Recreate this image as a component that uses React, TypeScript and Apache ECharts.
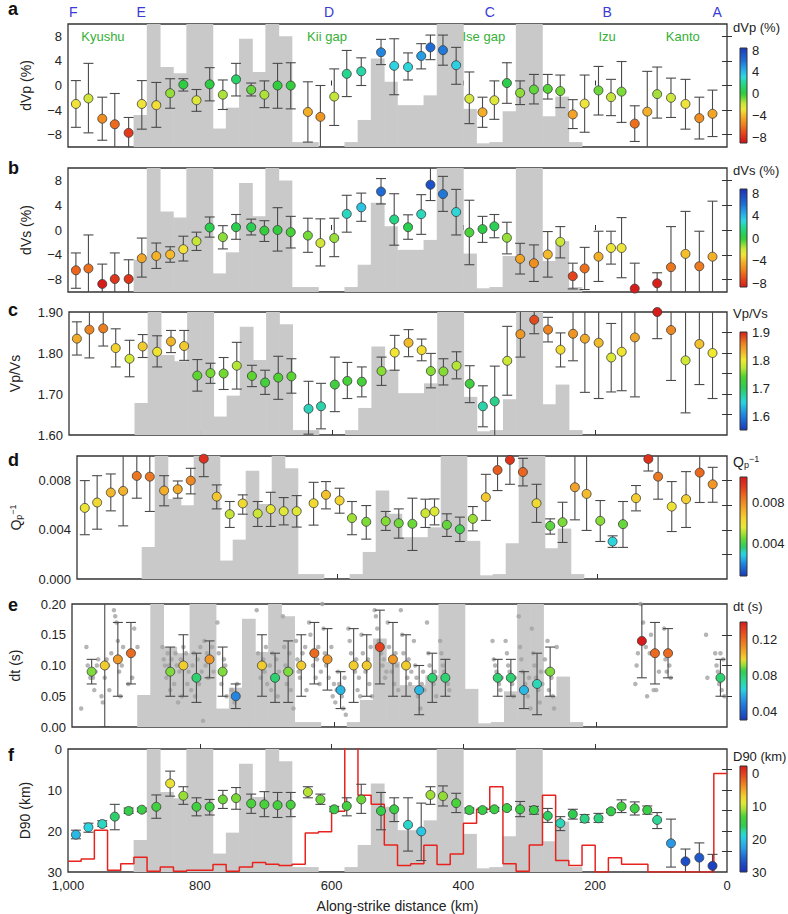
import React, { useEffect, useRef } from "react";
import * as echarts from "echarts";

// ---------- data ----------
const xKm = [988, 969, 948, 929, 908, 888, 866, 845, 825, 805, 785, 765, 745, 722, 702, 682, 662, 636, 617, 596, 577, 555, 525, 505, 484, 464, 450, 431, 411, 391, 371, 353, 334, 314, 293, 272, 253, 234, 216, 195, 176, 160, 140, 121, 106, 85, 63, 42, 22];

const dVp = [-3.0, -2.1, -5.4, -6.3, -7.7, -3.0, -3.2, -1.25, 0.15, -2.4, 0.2, -1.5, 1.0, -0.7, -1.5, 0, 0, -4.3, -5.1, -1.8, 1.9, 2.3, 5.4, 3.2, 3.0, 4.8, 6.2, 5.75, 3.3, -2.15, -4.35, -2.4, 0.4, -1.2, -0.65, -0.55, -0.9, -4.7, -2.95, -0.8, -1.9, -1.0, -6.2, -4.25, -1.4, -2.0, -3.0, -5.3, -4.6];
const dVpLo = [-6.8, -7.7, -8.9, -11, -11, -7.1, -6.8, -3.7, -0.9, -4.2, -2.5, -3.9, -1.7, -1.7, -3.6, -3.7, -3.8, -9.2, -11, -6.5, -1.8, 0, 3.4, -1.5, 0.9, 2.7, 4.2, 3.3, 0.2, -6.2, -6.8, -5.5, -2.9, -3.1, -3.0, -2.2, -3.6, -7.0, -7.6, -4.8, -4.9, -6.0, -9.1, -11, -5.3, -5.2, -7.1, -8.7, -8.3];
const dVpHi = [0.8, 3.6, -1.9, -1.3, -5.2, 0.8, 0.5, 1.1, 1.1, -0.65, 2.9, 0.9, 3.6, 0.4, 0.75, 3.6, 3.7, 0.6, 0, 2.7, 5.7, 4.5, 7.5, 7.6, 5.3, 6.8, 8.2, 8.2, 6.2, 2.2, -1.9, 0.75, 3.7, 0.75, 1.8, 1.8, 1.7, -2.3, 1.7, 3.1, 1.0, 3.9, -3.3, 2.3, 3.0, 1.2, 1.0, -1.9, -0.75];

const dVs = [-6.5, -6.2, -8.7, -7.9, -7.9, -4.55, -4.2, -3.95, -3.1, -1.8, 0.4, -1.15, 0.45, 0.45, -0.1, 0, -0.35, -0.9, -2.1, -1.3, 2.6, 3.65, 6.2, 1.7, 0.45, 2.55, 7.3, 5.8, 2.9, -0.4, 0.15, 0.6, -1.25, -4.65, -5.35, -3.95, -1.9, -7.45, -6.2, -4.3, -2.9, -2.9, -9.45, null, -8.6, -6.0, -3.85, -5.85, -4.3];
const dVsLo = [-9.4, -11, -11, -11, -11, -7.6, -6.2, -5.2, -5.0, -3.3, -1.15, -3.05, -1.5, -0.8, -1.85, -3.4, -2.9, -3.6, -5.8, -4.3, -0.35, 1.4, 4.2, -2.45, -1.5, -0.7, 4.75, 3.0, -0.8, -5.6, -2.0, -1.25, -3.85, -7.1, -8.3, -7.6, -4.5, -9.5, -9.6, -8.3, -5.5, -7.7, -11, null, -11, -11, -11, -11, -11];
const dVsHi = [-3.7, -0.8, -5.5, -3.7, -4.8, -1.3, -2.1, -2.7, -1.0, -0.35, 2.1, 0.7, 2.5, 1.75, 1.5, 3.6, 2.2, 1.9, 1.8, 1.9, 5.6, 5.95, 8.3, 5.85, 2.45, 5.7, 11, 8.65, 6.55, 4.8, 2.2, 2.5, 1.25, -2.15, -2.4, -0.25, 0.55, -5.35, -2.8, -0.2, -0.2, 2.0, -5.35, null, -6.9, 0.55, 3.0, -0.2, 4.65];

const vpvs = [1.835, 1.857, 1.86, 1.812, 1.786, 1.816, 1.803, 1.828, 1.817, 1.745, 1.751, 1.75, 1.769, 1.744, 1.728, 1.74, 1.743, 1.664, 1.67, 1.723, 1.732, 1.73, 1.756, 1.801, 1.825, 1.807, 1.756, 1.755, 1.769, 1.725, 1.67, 1.682, 1.781, 1.846, 1.881, 1.857, 1.808, 1.847, 1.835, 1.825, 1.789, 1.803, 1.838, null, 1.9, 1.856, 1.782, 1.822, 1.8];
const vpvsLo = [1.795, 1.788, 1.817, 1.766, 1.742, 1.789, 1.766, 1.801, 1.782, 1.707, 1.726, 1.711, 1.712, 1.718, 1.699, 1.687, 1.702, 1.602, 1.615, 1.657, 1.689, 1.693, 1.721, 1.758, 1.791, 1.781, 1.715, 1.722, 1.737, 1.679, 1.62, 1.59, 1.697, 1.79, 1.847, 1.827, 1.766, 1.781, 1.704, 1.689, 1.705, 1.708, 1.693, null, 1.835, 1.733, 1.654, 1.723, 1.689];
const vpvsHi = [1.876, 1.95, 1.95, 1.859, 1.831, 1.845, 1.842, 1.855, 1.855, 1.784, 1.775, 1.789, 1.826, 1.77, 1.758, 1.792, 1.786, 1.731, 1.726, 1.79, 1.777, 1.766, 1.79, 1.843, 1.857, 1.834, 1.799, 1.786, 1.803, 1.769, 1.72, 1.768, 1.865, 1.95, 1.95, 1.887, 1.849, 1.95, 1.95, 1.95, 1.872, 1.95, 1.95, null, 1.95, 1.95, 1.95, 1.95, 1.95];

const qp = [0.00578, 0.00622, 0.00703, 0.00716, 0.00838, 0.00832, 0.00719, 0.0073, 0.008, 0.00978, 0.0067, 0.00527, 0.00614, 0.00532, 0.00568, 0.00551, 0.00551, 0.00616, 0.00684, 0.00638, 0.00495, 0.00465, 0.0047, 0.00454, 0.00449, 0.00535, 0.00549, 0.0044, 0.00405, 0.00489, 0.00665, 0.00886, 0.00968, 0.0087, 0.00616, 0.00432, 0.00462, 0.00746, 0.00692, 0.00473, 0.00305, 0.00446, 0.00657, 0.00976, 0.00832, 0.00589, 0.00649, 0.00865, 0.0077];
const qpLo = [0.0036, 0.00405, 0.00554, 0.00432, 0.00657, 0.00549, 0.00595, 0.00657, 0.00692, 0.00832, 0.0057, 0.00419, 0.00527, 0.00427, 0.00427, 0.0044, 0.00422, 0.00438, 0.0057, 0.00535, 0.0036, 0.00324, 0.00395, 0.00332, 0.00232, 0.00419, 0.0044, 0.00346, 0.00305, 0.00392, 0.00476, 0.00719, 0.0077, 0.00757, 0.0046, 0.00365, 0.00297, 0.00481, 0.00395, 0.00305, 0.00257, 0.00257, 0.00554, 0.00878, 0.00649, 0.00386, 0.00419, 0.00622, 0.00624];
const qpHi = [0.008, 0.0084, 0.00854, 0.011, 0.011, 0.011, 0.0084, 0.00797, 0.009, 0.011, 0.00765, 0.0063, 0.00684, 0.0063, 0.00705, 0.00662, 0.00678, 0.00786, 0.00792, 0.00738, 0.0063, 0.00597, 0.00549, 0.0057, 0.00657, 0.00649, 0.00651, 0.0053, 0.00503, 0.00589, 0.00851, 0.011, 0.011, 0.00981, 0.0077, 0.00489, 0.00624, 0.011, 0.011, 0.00638, 0.00351, 0.0063, 0.0076, 0.011, 0.011, 0.00792, 0.00873, 0.011, 0.00908];

const dtKm = [970, 950, 930, 910, 850, 830, 810, 790, 770, 750, 710, 690, 670, 650, 630, 610, 590, 570, 550, 530, 510, 490, 470, 450, 430, 350, 330, 310, 290, 270, 130, 110, 90, 10];
const dt = [0.09, 0.1, 0.11, 0.12, 0.09, 0.1, 0.08, 0.11, 0.09, 0.05, 0.1, 0.08, 0.09, 0.1, 0.12, 0.11, 0.06, 0.1, 0.1, 0.13, 0.11, 0.1, 0.06, 0.08, 0.08, 0.08, 0.08, 0.06, 0.07, 0.09, 0.14, 0.12, 0.12, 0.08];
const dtLo = [0.07, 0.0, 0.05, 0.07, 0.05, 0.05, 0.04, 0.08, 0.05, 0.03, 0.05, 0.04, 0.04, 0.05, 0.07, 0.06, 0.03, 0.04, 0.05, 0.07, 0.05, 0.05, 0.02, 0.04, 0.05, 0.05, 0.05, 0.03, 0.02, 0.05, 0.08, 0.07, 0.08, 0.05];
const dtHi = [0.11, 0.21, 0.17, 0.17, 0.13, 0.15, 0.12, 0.14, 0.13, 0.07, 0.15, 0.12, 0.14, 0.15, 0.17, 0.16, 0.09, 0.16, 0.15, 0.19, 0.17, 0.15, 0.1, 0.12, 0.11, 0.11, 0.11, 0.09, 0.12, 0.13, 0.21, 0.17, 0.16, 0.11];
// individual dt measurements (grey dots): [km, dt]
const dtDots: number[][] = [
  [986, 0.03], [978, 0.13], [976, 0.1], [972, 0.08], [968, 0.08], [966, 0.06], [964, 0.09], [962, 0.1], [960, 0.11],
  [955, 0.05], [953, 0.04], [950, 0.08], [947, 0.11], [945, 0.1], [943, 0.06], [940, 0.12],
  [936, 0.19], [934, 0.18], [932, 0.17], [930, 0.14], [928, 0.09], [926, 0.05], [924, 0.1], [922, 0.13],
  [914, 0.07], [912, 0.12], [908, 0.08], [905, 0.16], [900, 0.13],
  [862, 0.13], [860, 0.11], [858, 0.1], [856, 0.08], [854, 0.12], [852, 0.1], [850, 0.06], [848, 0.11], [846, 0.09], [844, 0.07], [842, 0.12], [840, 0.1],
  [838, 0.04], [836, 0.09], [834, 0.11], [832, 0.05], [830, 0.13], [828, 0.1], [826, 0.12], [824, 0.07], [822, 0.09],
  [818, 0.06], [816, 0.1], [814, 0.12], [812, 0.05], [810, 0.08], [808, 0.11], [806, 0.07], [804, 0.13], [802, 0.09], [800, 0.01],
  [798, 0.14], [796, 0.1], [794, 0.12], [792, 0.08], [788, 0.11], [786, 0.13], [784, 0.09],
  [778, 0.17], [776, 0.12], [774, 0.09], [772, 0.07], [768, 0.11], [766, 0.1], [764, 0.05],
  [756, 0.06], [752, 0.04], [748, 0.07],
  [718, 0.19], [716, 0.12], [714, 0.1], [712, 0.08], [708, 0.11], [706, 0.09], [704, 0.13], [702, 0.07],
  [698, 0.1], [696, 0.06], [694, 0.12], [692, 0.08], [688, 0.11], [686, 0.05], [684, 0.09],
  [678, 0.18], [676, 0.13], [674, 0.1], [672, 0.07], [668, 0.12], [666, 0.06], [664, 0.09], [662, 0.03],
  [658, 0.14], [656, 0.11], [654, 0.09], [652, 0.08], [648, 0.12], [646, 0.1], [644, 0.13], [642, 0.06],
  [638, 0.17], [636, 0.15], [634, 0.12], [632, 0.1], [628, 0.08], [626, 0.11], [624, 0.13], [622, 0.07], [620, 0.09],
  [618, 0.2], [616, 0.16], [614, 0.12], [612, 0.1], [608, 0.08], [606, 0.11], [604, 0.13], [602, 0.05], [600, 0.07],
  [598, 0.04], [596, 0.06], [594, 0.09], [592, 0.07], [588, 0.05], [586, 0.03], [584, 0.08], [582, 0.02],
  [578, 0.16], [576, 0.14], [574, 0.12], [572, 0.1], [568, 0.09], [566, 0.11], [564, 0.06], [562, 0.08], [560, 0.05],
  [558, 0.15], [556, 0.12], [554, 0.1], [552, 0.09], [548, 0.11], [546, 0.07], [544, 0.13], [542, 0.05],
  [538, 0.19], [536, 0.18], [534, 0.16], [532, 0.14], [528, 0.12], [526, 0.1], [524, 0.11], [522, 0.08], [520, 0.09],
  [518, 0.17], [516, 0.13], [514, 0.11], [512, 0.09], [508, 0.07], [506, 0.12], [504, 0.1], [502, 0.06],
  [498, 0.19], [496, 0.15], [494, 0.12], [492, 0.1], [488, 0.08], [486, 0.11], [484, 0.07], [482, 0.09],
  [478, 0.14], [476, 0.1], [474, 0.08], [472, 0.05], [468, 0.03], [466, 0.07], [464, 0.09], [462, 0.06],
  [458, 0.17], [456, 0.12], [454, 0.1], [452, 0.08], [448, 0.07], [446, 0.09], [444, 0.05],
  [438, 0.14], [436, 0.12], [434, 0.1], [432, 0.09], [428, 0.08], [426, 0.07], [424, 0.06],
  [358, 0.14], [356, 0.11], [354, 0.1], [352, 0.09], [348, 0.07], [346, 0.06], [344, 0.08],
  [338, 0.14], [336, 0.12], [334, 0.1], [332, 0.09], [328, 0.07], [326, 0.05], [324, 0.08],
  [318, 0.18], [316, 0.13], [314, 0.11], [312, 0.09], [308, 0.07], [306, 0.06], [304, 0.05], [302, 0.08], [300, 0.03],
  [298, 0.16], [296, 0.12], [294, 0.1], [292, 0.08], [288, 0.06], [286, 0.04], [284, 0.09], [282, 0.07],
  [278, 0.11], [276, 0.09], [274, 0.14], [272, 0.06], [268, 0.08], [266, 0.05], [264, 0.03], [260, 0.13],
  [140, 0.07], [138, 0.1], [136, 0.12], [132, 0.2], [128, 0.17], [124, 0.13], [122, 0.05],
  [118, 0.12], [116, 0.15], [112, 0.06], [108, 0.06], [104, 0.09],
  [96, 0.16], [94, 0.11], [92, 0.09], [88, 0.1], [86, 0.08],
  [32, 0.15], [30, 0.08], [18, 0.12], [16, 0.1], [14, 0.09], [12, 0.07], [10, 0.12], [8, 0.06], [6, 0.11], [4, 0.05],
];

const d90 = [20.9, 19.1, 18.3, 16.5, 15.1, 14.8, 14.1, 8.4, 11.4, 14.1, 14.1, 12.3, 12.0, 13.3, 13.5, 13.7, 13.6, 10.5, 12.3, 14.7, 13.9, 12.3, 15.1, 14.7, 18.5, 20.1, 11.2, 11.5, 13.2, 14.9, 14.9, 14.7, 14.4, 14.7, 14.9, 16.3, 18.1, 15.9, 17.0, 16.9, 15.2, 14.0, 14.5, 14.9, 17.3, 23.0, 27.4, 26.5, 28.5];
const d90Lo = [19.8, 18.1, 17.5, 13.5, 14.4, 14.4, 11.2, 5.4, 9.2, 11.9, 12.3, 10.1, 9.4, 11.0, 10.4, 10.6, 10.6, 9.2, 11.0, 14.0, 11.9, 8.6, 10.6, 11.9, 11.9, 13.2, 9.2, 9.0, 10.8, 14.4, 14.4, 14.3, 14.0, 12.8, 14.0, 14.5, 16.5, 14.7, 16.0, 15.7, 14.7, 12.4, 12.9, 13.9, 15.5, 17.1, 24.4, 22.9, 25.7];
const d90Hi = [21.9, 20.3, 18.9, 19.7, 15.7, 15.3, 16.9, 11.5, 13.5, 16.3, 16.1, 14.5, 14.7, 15.7, 16.5, 16.7, 16.5, 11.9, 13.5, 15.3, 16.3, 15.7, 19.7, 17.7, 24.9, 27.2, 13.5, 13.9, 15.5, 15.6, 15.5, 15.2, 14.8, 16.5, 15.9, 17.9, 19.9, 17.1, 17.9, 17.9, 15.5, 15.5, 16.1, 15.9, 19.4, 28.8, 32, 32, 32];

// red step curve (panel f), 20-km bins from 1000 km to 0 km, in D90-axis units
const redBinStart = [1000, 980, 960, 940, 920, 900, 880, 860, 840, 820, 800, 780, 760, 740, 720, 700, 680, 660, 640, 620, 600, 580, 560, 540, 520, 500, 480, 460, 440, 420, 400, 380, 360, 340, 320, 300, 280, 260, 240, 220, 200, 180, 160, 140, 120, 100, 80, 60, 40, 20];
const redVal = [27.4, 26.8, 19.8, 29.6, 28.0, 26.4, 29.8, 28.8, 29.8, 29.6, 29.6, 28.2, 29.8, 28.8, 27.7, 28.1, 28.4, 28.1, 20.5, 20.2, 15.2, -3, 11.3, 13.5, 23.4, 28.4, 28.0, 23.5, 28.2, 25.6, 18.1, 14.7, 9.2, 28.0, 29.8, 23.4, 11.3, 27.2, 28.4, 23.5, 30, 26.5, 28.1, 28.1, 30, 30, 30, 30, 30, 6.0];

// grey background histogram (fraction of panel height), 20-km bins
const histBinStart = [900, 880, 860, 840, 820, 800, 780, 760, 740, 720, 700, 680, 660, 640, 620, 600, 580, 560, 540, 520, 500, 480, 460, 440, 420, 400, 380, 360, 340, 320, 300, 280, 260, 240];
const histVal = [0.26, 1.0, 0.65, 0.6, 1.0, 1.0, 0.15, 0.32, 0.88, 0.61, 1.0, 0.9, 0.04, 0.04, 0, 0, 0.04, 0.22, 0.72, 0.53, 0.34, 0.34, 0.42, 1.0, 1.0, 0.31, 0.03, 0.04, 0.29, 1.0, 1.0, 0.25, 0.41, 0.04];

const profileLetters = ["F", "E", "D", "C", "B", "A"];
const profileKm = [992, 889, 604, 360, 182, 15];
const regionNames = ["Kyushu", "Kii gap", "Ise gap", "Izu", "Kanto"];
const regionKm = [947, 607, 369, 182, 67];

// ---------- styling helpers ----------
const FONT = "Liberation Sans, Arial, Helvetica, sans-serif";
const W = 788;
const GRID_LEFT = 68;
const GRID_RIGHT = 61;
const panelsLayout = [
  { top: 24, height: 123 },
  { top: 168, height: 124 },
  { top: 312, height: 123 },
  { top: 456, height: 123 },
  { top: 604, height: 123 },
  { top: 749, height: 124 },
];
const cbLayout = [
  { top: 48, height: 95 },
  { top: 189, height: 98 },
  { top: 332, height: 98 },
  { top: 477, height: 99 },
  { top: 622, height: 98 },
  { top: 766, height: 106 },
];

function hex(c: string) {
  return [parseInt(c.slice(1, 3), 16), parseInt(c.slice(3, 5), 16), parseInt(c.slice(5, 7), 16)];
}
function interp(stops: [number, string][], v: number) {
  if (v <= stops[0][0]) return stops[0][1];
  for (let i = 1; i < stops.length; i++) {
    if (v <= stops[i][0]) {
      const [a, ca] = stops[i - 1];
      const [b, cb] = stops[i];
      const t = (v - a) / (b - a);
      const A = hex(ca), B = hex(cb);
      const m = A.map((x, k) => Math.round(x + (B[k] - x) * t));
      return "rgb(" + m.join(",") + ")";
    }
  }
  return stops[stops.length - 1][1];
}
function palette(stops: [number, string][], min: number, max: number, n = 60) {
  const out: string[] = [];
  for (let i = 0; i < n; i++) out.push(interp(stops, min + ((max - min) * i) / (n - 1)));
  return out;
}

const dvStops: [number, string][] = [
  [-9, "#d4141a"], [-7, "#e8501c"], [-5.5, "#f08a1e"], [-4, "#f5b82a"], [-3, "#f2e63a"], [-1.8, "#c8e63a"],
  [-0.8, "#6ad838"], [0, "#2ecc3c"], [2, "#22d890"], [3, "#30d8e0"], [4.5, "#28a8e8"], [6, "#1f70d8"], [8.8, "#1a2fb8"],
];
const vpvsStops: [number, string][] = [
  [1.55, "#1a3ab8"], [1.6, "#1e7fe0"], [1.65, "#2ad6e0"], [1.7, "#2ecc5a"], [1.74, "#4ed230"], [1.77, "#b8e636"],
  [1.8, "#f2ea30"], [1.83, "#f2b22a"], [1.86, "#ec8020"], [1.9, "#d81b1b"],
];
const qpStops: [number, string][] = [
  [0.0009, "#1a3ab8"], [0.002, "#1e7fe0"], [0.003, "#2ad6e8"], [0.0037, "#2ecc60"], [0.0045, "#6ad838"], [0.005, "#a8e036"],
  [0.0056, "#e8ea36"], [0.0065, "#f5d030"], [0.0075, "#f2a028"], [0.0085, "#ec7020"], [0.0095, "#e03a1c"], [0.0104, "#d81b1b"],
];
const dtStops: [number, string][] = [
  [0.031, "#1a3ab8"], [0.045, "#1f6fd8"], [0.055, "#2a9ae6"], [0.065, "#2ad6e0"], [0.075, "#2ed890"], [0.085, "#30cc50"],
  [0.092, "#9ee036"], [0.098, "#f0d830"], [0.105, "#f2b02a"], [0.115, "#ec8020"], [0.128, "#e84a1e"], [0.139, "#d81b1b"],
];
const d90Stops: [number, string][] = [
  [-2.2, "#d81b1b"], [1, "#e85020"], [4, "#f09020"], [7, "#f2d030"], [9, "#e6ea36"], [11, "#a8e036"], [13, "#4cd238"],
  [16, "#2ecc50"], [17.5, "#2ed8a0"], [19, "#2ad6e0"], [23, "#2a9ae6"], [26, "#1f5fd0"], [30, "#1a2fb8"],
];

type Panel = {
  xs: number[]; v: (number | null)[]; lo: (number | null)[]; hi: (number | null)[];
  min: number; max: number; inverse?: boolean; ticks: number[]; labels: number[]; fmt: (v: number) => string;
  name: string; nameGap: number; cb: { min: number; max: number; stops: [number, string][]; labels: number[]; fmt: (v: number) => string; inverse?: boolean };
};
const minus = (s: string) => s.replace("-", "\u2212");
const panels: Panel[] = [
  { xs: xKm, v: dVp, lo: dVpLo, hi: dVpHi, min: -10, max: 10, ticks: [-8, -4, 0, 4, 8], labels: [-8, -4, 0, 4, 8], fmt: (v) => minus(String(v)), name: "dVp (%)", nameGap: 35, cb: { min: -9.1, max: 8.4, stops: dvStops, labels: [8, 4, 0, -4, -8], fmt: (v) => minus(String(v)) } },
  { xs: xKm, v: dVs, lo: dVsLo, hi: dVsHi, min: -10, max: 10, ticks: [-8, -4, 0, 4, 8], labels: [-8, -4, 0, 4, 8], fmt: (v) => minus(String(v)), name: "dVs (%)", nameGap: 35, cb: { min: -8.7, max: 8.8, stops: dvStops, labels: [8, 4, 0, -4, -8], fmt: (v) => minus(String(v)) } },
  { xs: xKm, v: vpvs, lo: vpvsLo, hi: vpvsHi, min: 1.6, max: 1.9, ticks: [1.65, 1.7, 1.75, 1.8, 1.85], labels: [1.6, 1.7, 1.8, 1.9], fmt: (v) => v.toFixed(2), name: "Vp/Vs", nameGap: 47, cb: { min: 1.55, max: 1.9, stops: vpvsStops, labels: [1.6, 1.7, 1.8, 1.9], fmt: (v) => v.toFixed(1) } },
  { xs: xKm, v: qp, lo: qpLo, hi: qpHi, min: 0, max: 0.01, ticks: [0.002, 0.004, 0.006, 0.008], labels: [0, 0.004, 0.008], fmt: (v) => v.toFixed(3), name: "{a|Q}{b|p}{c|\u22121}", nameGap: 54, cb: { min: 0.0009, max: 0.0104, stops: qpStops, labels: [0.004, 0.008], fmt: (v) => v.toFixed(3) } },
  { xs: dtKm, v: dt, lo: dtLo, hi: dtHi, min: 0, max: 0.2, ticks: [0.05, 0.1, 0.15], labels: [0, 0.05, 0.1, 0.15, 0.2], fmt: (v) => v.toFixed(2), name: "dt (s)", nameGap: 50, cb: { min: 0.031, max: 0.139, stops: dtStops, labels: [0.04, 0.08, 0.12], fmt: (v) => v.toFixed(2) } },
  { xs: xKm, v: d90, lo: d90Lo, hi: d90Hi, min: 0, max: 30, inverse: true, ticks: [5, 10, 15, 20, 25], labels: [0, 10, 20, 30], fmt: (v) => String(v), name: "D90 (km)", nameGap: 36, cb: { min: -2.2, max: 30, stops: d90Stops, labels: [0, 10, 20, 30], fmt: (v) => String(v), inverse: true } },
];
const cbTitles = ["dVp (%)", "dVs (%)", "Vp/Vs", "{a|Q}{b|p}{c|\u22121}", "dt (s)", "D90 (km)"];
const cbTitleY = [30, 173, 316, 463, 609, 759];
const letterY = [10, 169, 311, 461, 606, 756];
const richQ = {
  a: { fontSize: 14, fontFamily: FONT, color: "#222" },
  b: { fontSize: 9, fontFamily: FONT, color: "#222", verticalAlign: "bottom", padding: [6, 0, 0, 0] },
  c: { fontSize: 9, fontFamily: FONT, color: "#222", verticalAlign: "top", padding: [0, 0, 6, 0] },
};

function buildOption() {
  const grid: any[] = [];
  const xAxis: any[] = [];
  const yAxis: any[] = [];
  const series: any[] = [];
  const visualMap: any[] = [];

  panels.forEach((p, i) => {
    const L = panelsLayout[i];
    grid.push({ left: GRID_LEFT, right: GRID_RIGHT, top: L.top, height: L.height, show: true, borderColor: "#333", borderWidth: 1.3, backgroundColor: "transparent" });
    const last = i === panels.length - 1;
    xAxis.push({
      type: "value", gridIndex: i, min: 0, max: 1000, inverse: true,
      axisLine: { show: false }, splitLine: { show: false },
      axisTick: { show: true, inside: true, length: 5, lineStyle: { color: "#333" }, customValues: [800, 600, 400, 200] },
      axisLabel: { show: last, fontSize: 13, color: "#222", fontFamily: FONT, margin: 7, customValues: [1000, 800, 600, 400, 200, 0], formatter: (v: number) => (v === 1000 ? "1,000" : String(v)) },
      name: last ? "Along-strike distance (km)" : "", nameLocation: "middle", nameGap: 27,
      nameTextStyle: { fontSize: 14, color: "#222", fontFamily: FONT },
    });
    const isQ = i === 3;
    yAxis.push({
      type: "value", gridIndex: i, min: p.min, max: p.max, inverse: !!p.inverse, position: "left",
      axisLine: { show: false }, splitLine: { show: false },
      axisTick: { show: true, inside: true, length: 5, lineStyle: { color: "#333" }, customValues: p.ticks },
      axisLabel: { fontSize: 13, color: "#222", fontFamily: FONT, margin: 6, customValues: p.labels, formatter: p.fmt },
      name: p.name, nameLocation: "middle", nameRotate: 90, nameGap: p.nameGap,
      nameTextStyle: isQ ? { rich: richQ, fontSize: 14, color: "#222", fontFamily: FONT } : { fontSize: 14, color: "#222", fontFamily: FONT },
    });
    yAxis.push({
      type: "value", gridIndex: i, min: p.min, max: p.max, inverse: !!p.inverse, position: "right",
      axisLine: { show: false }, splitLine: { show: false },
      axisTick: { show: true, inside: true, length: 5, lineStyle: { color: "#333" }, customValues: p.ticks },
      axisLabel: { show: false },
    });
    yAxis.push({ type: "value", gridIndex: i, min: 0, max: 1, show: false });

    // histogram
    series.push({
      type: "custom", xAxisIndex: i, yAxisIndex: 3 * i + 2, clip: true, silent: true, z: 1,
      data: histBinStart.map((s, k) => [s, s - 20, histVal[k]]),
      encode: { x: [0, 1], y: 2 },
      renderItem: (params: any, api: any) => {
        const a = api.coord([api.value(0), api.value(2)]);
        const b = api.coord([api.value(1), 0]);
        return { type: "rect", shape: { x: Math.min(a[0], b[0]) - 0.3, y: a[1], width: Math.abs(b[0] - a[0]) + 0.6, height: b[1] - a[1] }, style: { fill: "#c9c9c9" } };
      },
    });
    if (i === 4) {
      series.push({
        type: "scatter", xAxisIndex: i, yAxisIndex: 3 * i, data: dtDots, symbolSize: 4.5, silent: true, z: 2,
        itemStyle: { color: "#a3a3a3" },
      });
    }
    if (i === 5) {
      const pts: number[][] = [];
      redBinStart.forEach((s, k) => { pts.push([s, redVal[k]]); pts.push([s - 20, redVal[k]]); });
      series.push({
        type: "line", xAxisIndex: i, yAxisIndex: 3 * i, data: pts, showSymbol: false, symbol: "none", z: 3, silent: true,
        lineStyle: { color: "#e8231e", width: 1.5 }, clip: true,
      });
    }
    // error bars
    const eb: number[][] = [];
    p.xs.forEach((x, k) => { if (p.v[k] != null) eb.push([x, p.lo[k] as number, p.hi[k] as number]); });
    series.push({
      type: "custom", xAxisIndex: i, yAxisIndex: 3 * i, clip: true, silent: true, z: 4,
      data: eb, encode: { x: 0, y: [1, 2] },
      renderItem: (params: any, api: any) => {
        const x = api.value(0);
        const p1 = api.coord([x, api.value(1)]);
        const p2 = api.coord([x, api.value(2)]);
        const cap = 5;
        const st = { stroke: "#4a4a4a", lineWidth: 1.1 };
        return {
          type: "group", children: [
            { type: "line", shape: { x1: p1[0], y1: p1[1], x2: p2[0], y2: p2[1] }, style: st },
            { type: "line", shape: { x1: p1[0] - cap, y1: p1[1], x2: p1[0] + cap, y2: p1[1] }, style: st },
            { type: "line", shape: { x1: p2[0] - cap, y1: p2[1], x2: p2[0] + cap, y2: p2[1] }, style: st },
          ],
        };
      },
    });
    // points
    const pts: number[][] = [];
    p.xs.forEach((x, k) => { if (p.v[k] != null) pts.push([x, p.v[k] as number]); });
    series.push({
      type: "scatter", xAxisIndex: i, yAxisIndex: 3 * i, data: pts, symbolSize: 9, z: 5, silent: true,
      itemStyle: { borderColor: "#3a3a3a", borderWidth: 0.8, opacity: 1 },
    });
    visualMap.push({
      type: "continuous", show: false, seriesIndex: series.length - 1, dimension: 1,
      min: p.cb.min, max: p.cb.max, inRange: { color: palette(p.cb.stops, p.cb.min, p.cb.max) },
    });
  });

  // colorbars
  panels.forEach((p, i) => {
    const C = cbLayout[i];
    const gi = panels.length + i;
    grid.push({ left: 740, width: 7, top: C.top, height: C.height, show: false });
    xAxis.push({ type: "value", gridIndex: gi, min: 0, max: 1, show: false });
    yAxis.push({
      type: "value", gridIndex: gi, min: p.cb.min, max: p.cb.max, inverse: !!p.cb.inverse, position: "right",
      axisLine: { show: false }, axisTick: { show: false }, splitLine: { show: false },
      axisLabel: { fontSize: 13, color: "#222", fontFamily: FONT, margin: 5, customValues: p.cb.labels, formatter: p.cb.fmt },
    });
    const pal = palette(p.cb.stops, p.cb.min, p.cb.max, 40);
    const gstops = pal.map((c, k) => ({ offset: k / (pal.length - 1), color: c }));
    const inv = !!p.cb.inverse;
    series.push({
      type: "custom", xAxisIndex: gi, yAxisIndex: yAxis.length - 1, silent: true, z: 5,
      data: [[0, p.cb.min, p.cb.max]], encode: { x: 0, y: [1, 2] },
      renderItem: (params: any, api: any) => {
        const a = api.coord([0, api.value(1)]);
        const b = api.coord([1, api.value(2)]);
        const x = Math.min(a[0], b[0]), y = Math.min(a[1], b[1]);
        return {
          type: "rect", shape: { x, y, width: Math.abs(b[0] - a[0]), height: Math.abs(b[1] - a[1]) },
          style: { fill: new echarts.graphic.LinearGradient(0, inv ? 0 : 1, 0, inv ? 1 : 0, gstops), stroke: "#333", lineWidth: 1 },
        };
      },
    });
  });

  const graphic: any[] = [];
  panels.forEach((p, i) => {
    graphic.push({ type: "text", left: 8, top: letterY[i] - 10, z: 100, style: { text: "abcdef"[i], font: "bold 18px " + FONT, fill: "#111" } });
    graphic.push({
      type: "text", left: 733, top: cbTitleY[i] - 9, z: 100,
      style: { text: cbTitles[i], font: "13px " + FONT, fill: "#222", rich: i === 3 ? richQ : undefined },
    });
  });

  return {
    animation: false,
    backgroundColor: "#fff",
    textStyle: { fontFamily: FONT },
    grid, xAxis, yAxis, series, visualMap, graphic,
  };
}

export default function App() {
  const ref = useRef<HTMLDivElement>(null);
  useEffect(() => {
    const chart = echarts.init(ref.current!, undefined, { renderer: "svg" });
    const opt = buildOption();
    chart.setOption(opt);
    const extra: any[] = [];
    profileLetters.forEach((t, k) => {
      const px = chart.convertToPixel({ xAxisIndex: 0 } as any, profileKm[k]) as any;
      extra.push({ type: "text", x: px, y: 12, z: 100, style: { text: t, font: "14px " + FONT, fill: "#3a3ad6", align: "center", verticalAlign: "middle", textAlign: "center", textVerticalAlign: "middle" } });
    });
    regionNames.forEach((t, k) => {
      const pt = chart.convertToPixel({ xAxisIndex: 0, yAxisIndex: 0 } as any, [regionKm[k], 8]) as any;
      extra.push({ type: "text", x: pt[0], y: pt[1], z: 100, style: { text: t, font: "13px " + FONT, fill: "#35b035", align: "center", verticalAlign: "middle", textAlign: "center", textVerticalAlign: "middle" } });
    });
    chart.setOption({ graphic: [...(opt.graphic as any[]), ...extra] });
    return () => chart.dispose();
  }, []);
  return <div ref={ref} style={{ position: "absolute", left: 0, top: 0, width: W, height: 914 }} />;
}
